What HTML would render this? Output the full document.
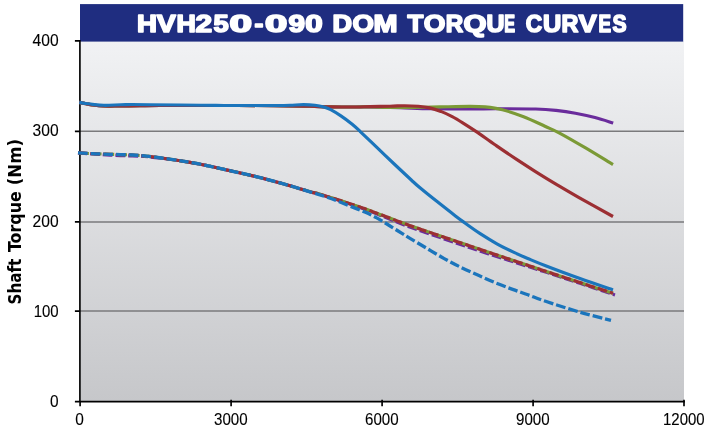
<!DOCTYPE html>
<html><head><meta charset="utf-8"><title>HVH250-090 DOM TORQUE CURVES</title>
<style>
html,body{margin:0;padding:0;background:#fff;}
svg{display:block;}
.tick{font-family:"Liberation Sans",sans-serif;font-size:16.9px;fill:#000;stroke:#000;stroke-width:0.12px;}
.title{font-family:"Liberation Sans",sans-serif;font-weight:bold;font-size:23.5px;fill:#fff;stroke:#fff;stroke-width:1.6px;stroke-linejoin:round;}
.ylab{font-family:"DejaVu Sans","Liberation Sans",sans-serif;font-weight:bold;font-size:17.1px;fill:#000;}
.c{fill:none;stroke-width:3.15;}
.d{fill:none;stroke-width:3.15;stroke-dasharray:9.7 3;}
</style></head><body>
<svg width="707" height="433" viewBox="0 0 707 433" role="img" aria-label="HVH250-090 DOM TORQUE CURVES - Shaft Torque (Nm)">
<defs><linearGradient id="bg" x1="0" y1="0" x2="0" y2="1"><stop offset="0" stop-color="#f1f2f4"/><stop offset="1" stop-color="#c6c7ca"/></linearGradient></defs>
<rect x="0" y="0" width="707" height="433" fill="#fff"/>
<rect x="80" y="41" width="604" height="360" fill="url(#bg)"/>
<g stroke="#7a7a7c" stroke-width="1.5"><line x1="80" y1="131.3" x2="684" y2="131.3"/><line x1="80" y1="221.9" x2="684" y2="221.9"/><line x1="80" y1="311.1" x2="684" y2="311.1"/></g>
<rect x="80" y="4.1" width="603.2" height="37.5" fill="#1f2d80"/>
<text class="title" y="32.3"><tspan x="137.0" textLength="19.9" lengthAdjust="spacingAndGlyphs">H</tspan><tspan x="156.8" textLength="19.1" lengthAdjust="spacingAndGlyphs">V</tspan><tspan x="176.6" textLength="19.3" lengthAdjust="spacingAndGlyphs">H</tspan><tspan x="195.6" textLength="16.6" lengthAdjust="spacingAndGlyphs">2</tspan><tspan x="213.6" textLength="15.2" lengthAdjust="spacingAndGlyphs">5</tspan><tspan x="229.4" textLength="22.5" lengthAdjust="spacingAndGlyphs">0</tspan><tspan x="254.4" textLength="8.8" lengthAdjust="spacingAndGlyphs">-</tspan><tspan x="265.0" textLength="22.3" lengthAdjust="spacingAndGlyphs">0</tspan><tspan x="288.4" textLength="16.5" lengthAdjust="spacingAndGlyphs">9</tspan><tspan x="305.2" textLength="17.4" lengthAdjust="spacingAndGlyphs">0</tspan> <tspan x="332.6" textLength="19.5" lengthAdjust="spacingAndGlyphs">D</tspan><tspan x="352.5" textLength="21.4" lengthAdjust="spacingAndGlyphs">O</tspan><tspan x="373.6" textLength="24.0" lengthAdjust="spacingAndGlyphs">M</tspan> <tspan x="407.6" textLength="15.8" lengthAdjust="spacingAndGlyphs">T</tspan><tspan x="423.8" textLength="21.6" lengthAdjust="spacingAndGlyphs">O</tspan><tspan x="445.8" textLength="17.5" lengthAdjust="spacingAndGlyphs">R</tspan><tspan x="463.4" textLength="23.0" lengthAdjust="spacingAndGlyphs">Q</tspan><tspan x="486.5" textLength="18.0" lengthAdjust="spacingAndGlyphs">U</tspan><tspan x="504.2" textLength="10.8" lengthAdjust="spacingAndGlyphs">E</tspan> <tspan x="525.8" textLength="16.4" lengthAdjust="spacingAndGlyphs">C</tspan><tspan x="543.1" textLength="18.3" lengthAdjust="spacingAndGlyphs">U</tspan><tspan x="561.4" textLength="16.9" lengthAdjust="spacingAndGlyphs">R</tspan><tspan x="578.5" textLength="18.3" lengthAdjust="spacingAndGlyphs">V</tspan><tspan x="598.4" textLength="12.6" lengthAdjust="spacingAndGlyphs">E</tspan><tspan x="612.4" textLength="14.1" lengthAdjust="spacingAndGlyphs">S</tspan></text>
<g stroke="#000" stroke-width="1.65" fill="none">
<path d="M79.9 40V401.6"/><path d="M74.9 401.6H684.9"/>
<path d="M74.9 40.8H80M74.9 131.3H80M74.9 221.9H80M74.9 311.1H80"/>
<path d="M80.1 401V406.2M231.1 399.8V406.2M382.1 399.8V406.2M533.1 399.8V406.2M684 399.8V406.2"/>
</g>
<g>
<path class="c" stroke="#6a2c9c" d="M79.3 102.4C80.4 102.6 83.8 103.3 86.0 103.7C88.2 104.1 89.6 104.5 92.6 104.9C95.6 105.3 99.2 105.8 103.9 106.0C108.6 106.2 114.9 106.0 120.9 106.0C126.9 106.0 133.5 105.9 140.0 105.8C146.5 105.7 147.3 105.5 160.0 105.5C172.7 105.5 196.8 105.5 216.0 105.5C235.2 105.5 259.3 105.5 275.0 105.6C290.7 105.7 300.8 106.0 310.0 106.2C319.2 106.4 322.3 106.8 330.0 106.9C337.7 107.0 349.3 107.0 356.0 107.0C362.7 107.0 362.7 106.8 370.0 106.9C377.3 107.0 389.8 107.4 400.0 107.7C410.2 108.0 419.3 108.5 431.0 108.7C442.7 108.9 459.2 109.0 470.0 109.0C480.8 109.0 485.1 108.7 496.0 108.7C506.9 108.7 525.7 108.7 535.7 109.0C545.7 109.3 549.4 109.7 556.0 110.4C562.6 111.1 568.9 112.0 575.4 113.2C581.9 114.4 588.7 115.9 595.0 117.6C601.3 119.2 610.2 122.2 613.2 123.1"/>
<path class="c" stroke="#7b9a36" d="M79.3 102.4C80.4 102.6 83.8 103.3 86.0 103.7C88.2 104.1 89.6 104.5 92.6 104.9C95.6 105.3 99.2 105.8 103.9 106.0C108.6 106.2 114.9 106.0 120.9 106.0C126.9 106.0 133.5 105.9 140.0 105.8C146.5 105.7 147.3 105.5 160.0 105.5C172.7 105.5 196.8 105.5 216.0 105.5C235.2 105.5 259.3 105.5 275.0 105.6C290.7 105.7 300.8 106.0 310.0 106.2C319.2 106.4 322.3 106.8 330.0 106.9C337.7 107.0 349.3 107.0 356.0 107.0C362.7 107.0 364.3 106.8 370.0 106.9C375.7 107.0 382.5 107.4 390.0 107.5C397.5 107.6 406.7 107.5 415.0 107.4C423.3 107.3 430.8 107.1 440.0 106.9C449.2 106.7 462.5 106.3 470.0 106.3C477.5 106.3 479.6 106.3 485.0 106.9C490.4 107.5 496.0 108.2 502.4 109.8C508.8 111.4 516.5 114.0 523.6 116.7C530.7 119.4 538.8 123.4 544.9 126.2C551.0 129.0 553.1 129.6 560.0 133.3C566.9 137.0 577.2 143.0 586.0 148.2C594.8 153.4 608.5 161.9 613.0 164.6"/>
<path class="c" stroke="#9c2f33" d="M79.3 102.4C80.4 102.6 83.8 103.3 86.0 103.7C88.2 104.1 89.6 104.5 92.6 104.9C95.6 105.3 99.2 105.8 103.9 106.0C108.6 106.2 114.9 106.0 120.9 106.0C126.9 106.0 133.5 105.9 140.0 105.8C146.5 105.7 147.3 105.5 160.0 105.5C172.7 105.5 196.8 105.5 216.0 105.5C235.2 105.5 259.3 105.5 275.0 105.6C290.7 105.7 300.8 106.0 310.0 106.2C319.2 106.4 322.3 106.8 330.0 106.9C337.7 107.0 349.3 107.0 356.0 107.0C362.7 107.0 364.3 106.7 370.0 106.6C375.7 106.5 384.2 106.3 390.0 106.2C395.8 106.1 400.0 105.7 404.7 105.7C409.4 105.7 414.1 105.9 418.3 106.3C422.5 106.7 425.8 107.1 429.6 107.9C433.4 108.8 437.1 110.0 440.9 111.4C444.7 112.9 448.4 114.6 452.2 116.6C456.0 118.6 459.5 120.8 463.5 123.3C467.5 125.8 471.0 128.0 476.3 131.6C481.6 135.2 488.7 140.4 495.4 145.0C502.1 149.6 510.1 155.1 516.6 159.4C523.1 163.7 527.8 166.7 534.3 170.8C540.8 174.9 547.2 178.9 555.5 183.8C563.8 188.7 574.4 195.0 584.0 200.4C593.6 205.8 608.2 213.8 613.0 216.5"/>
<path class="c" stroke="#1b75bc" d="M79.3 102.4C80.4 102.6 83.8 103.2 86.0 103.5C88.2 103.8 89.6 104.1 92.6 104.4C95.6 104.7 99.2 105.2 103.9 105.3C108.6 105.4 116.2 104.9 120.9 104.8C125.6 104.7 127.3 104.5 132.2 104.5C137.0 104.5 142.0 104.6 150.0 104.7C158.0 104.8 169.0 104.9 180.0 105.0C191.0 105.1 204.3 105.3 216.0 105.4C227.7 105.5 240.2 105.5 250.0 105.5C259.8 105.5 268.3 105.5 275.0 105.5C281.7 105.5 285.2 105.5 290.0 105.3C294.8 105.1 299.5 104.6 303.6 104.6C307.8 104.6 311.5 104.8 314.9 105.2C318.3 105.6 321.3 106.2 323.9 106.9C326.5 107.7 327.9 108.2 330.7 109.7C333.5 111.2 337.3 113.5 340.9 115.9C344.5 118.3 349.0 121.7 352.2 124.3C355.4 126.9 355.9 127.4 360.0 131.3C364.1 135.2 371.4 142.2 377.1 147.7C382.8 153.1 388.5 158.6 394.2 164.0C399.9 169.4 407.0 176.0 411.3 180.0C415.6 184.0 415.7 184.2 420.0 187.8C424.3 191.4 431.4 197.1 437.1 201.6C442.8 206.1 449.9 211.7 454.2 215.0C458.5 218.3 458.4 218.3 462.7 221.4C467.0 224.5 474.1 229.7 479.8 233.4C485.5 237.1 491.2 240.6 496.9 243.8C502.6 247.0 508.9 250.0 514.0 252.4C519.1 254.8 522.4 256.3 527.7 258.5C533.0 260.7 536.9 262.4 545.6 265.8C554.3 269.2 568.8 274.6 580.0 278.6C591.2 282.6 607.5 288.1 613.0 290.0"/>
<path class="d" stroke="#6a2c9c" stroke-dashoffset="0.5" d="M78.0 152.9C80.5 153.1 87.7 153.6 93.1 154.0C98.5 154.4 103.7 154.9 110.2 155.2C116.8 155.5 126.7 155.8 132.4 156.0C138.1 156.2 142.4 156.3 144.4 156.4"/>
<path class="d" stroke="#7b9a36" stroke-dashoffset="11.5" d="M78.0 152.9C80.5 153.0 87.7 153.5 93.1 153.7C98.5 153.9 103.7 154.1 110.2 154.3C116.8 154.5 126.7 154.7 132.4 155.0C138.1 155.3 142.4 155.8 144.4 155.9"/>
<path class="d" stroke="#9c2f33" stroke-dashoffset="0.3" d="M78.0 152.9C80.5 153.0 87.7 153.5 93.1 153.7C98.5 153.9 103.7 154.1 110.2 154.3C116.8 154.5 126.7 154.7 132.4 155.0C138.1 155.3 142.4 155.8 144.4 155.9"/>
<path class="d" stroke="#6a2c9c" stroke-dashoffset="6" d="M144.4 156.4C147.2 156.7 155.8 157.6 161.5 158.3C167.2 159.0 173.8 159.8 178.6 160.5C183.3 161.2 185.2 161.6 190.0 162.4C194.8 163.2 201.4 164.4 207.1 165.6C212.8 166.8 218.5 168.1 224.2 169.4C229.9 170.7 235.6 171.9 241.3 173.2C247.0 174.5 252.7 175.8 258.4 177.2C264.1 178.6 269.8 180.1 275.5 181.7C281.2 183.2 286.9 184.8 292.6 186.5C298.4 188.2 305.8 190.6 310.0 191.8C314.2 193.0 312.8 192.2 317.9 193.7C323.0 195.2 332.8 198.3 340.5 200.9C348.2 203.5 357.7 206.7 364.3 209.1C370.9 211.5 372.7 212.3 380.0 215.2C387.3 218.1 397.6 222.6 408.3 226.5C419.0 230.4 432.5 234.9 444.2 238.9C455.9 242.9 467.0 246.7 478.4 250.5C489.8 254.3 501.4 258.0 512.6 261.6C523.8 265.2 534.4 268.5 545.6 272.1C556.8 275.7 568.4 279.5 580.0 283.3C591.6 287.1 609.2 293.0 615.0 294.9"/>
<path class="d" stroke="#7b9a36" stroke-dashoffset="3" d="M144.4 155.9C147.2 156.2 155.8 157.2 161.5 158.0C167.2 158.8 173.8 159.8 178.6 160.5C183.3 161.2 185.2 161.6 190.0 162.4C194.8 163.2 201.4 164.4 207.1 165.6C212.8 166.8 218.5 168.1 224.2 169.4C229.9 170.7 235.6 171.9 241.3 173.2C247.0 174.5 252.7 175.8 258.4 177.2C264.1 178.6 269.8 180.1 275.5 181.7C281.2 183.2 286.9 184.8 292.6 186.5C298.4 188.2 305.8 190.6 310.0 191.8C314.2 193.0 312.8 192.1 317.9 193.6C323.0 195.1 332.8 198.1 340.5 200.6C348.2 203.1 357.7 206.3 364.3 208.6C370.9 210.9 372.7 211.7 380.0 214.4C387.3 217.1 397.6 221.2 408.3 225.0C419.0 228.8 432.5 233.2 444.2 237.2C455.9 241.2 467.0 245.0 478.4 248.8C489.8 252.7 501.4 256.6 512.6 260.3C523.8 264.0 534.4 267.5 545.6 271.2C556.8 274.9 568.8 278.9 580.0 282.6C591.2 286.3 607.5 291.5 613.0 293.3"/>
<path class="d" stroke="#9c2f33" stroke-dashoffset="9.35" d="M144.4 155.9C147.2 156.2 155.8 157.2 161.5 158.0C167.2 158.8 173.8 159.8 178.6 160.5C183.3 161.2 185.2 161.6 190.0 162.4C194.8 163.2 201.4 164.4 207.1 165.6C212.8 166.8 218.5 168.1 224.2 169.4C229.9 170.7 235.6 171.9 241.3 173.2C247.0 174.5 252.7 175.8 258.4 177.2C264.1 178.6 269.8 180.1 275.5 181.7C281.2 183.2 286.9 184.8 292.6 186.5C298.4 188.2 305.8 190.6 310.0 191.8C314.2 193.0 312.8 192.1 317.9 193.6C323.0 195.1 332.8 198.1 340.5 200.6C348.2 203.1 357.7 206.3 364.3 208.6C370.9 210.9 372.7 211.7 380.0 214.4C387.3 217.1 397.6 221.2 408.3 225.0C419.0 228.8 432.5 233.2 444.2 237.2C455.9 241.2 467.0 245.0 478.4 248.8C489.8 252.7 501.4 256.6 512.6 260.3C523.8 264.0 534.4 267.5 545.6 271.2C556.8 274.9 568.8 278.9 580.0 282.6C591.2 286.3 607.5 291.5 613.0 293.3"/>
<path class="d" stroke="#1b75bc" style="stroke-width:3.3" d="M78.0 152.9C80.5 153.0 87.7 153.5 93.1 153.7C98.5 153.9 103.7 154.1 110.2 154.3C116.8 154.5 126.7 154.7 132.4 155.0C138.1 155.3 139.6 155.4 144.4 155.9C149.2 156.4 155.8 157.2 161.5 158.0C167.2 158.8 173.8 159.8 178.6 160.5C183.3 161.2 185.2 161.6 190.0 162.4C194.8 163.2 201.4 164.4 207.1 165.6C212.8 166.8 218.5 168.1 224.2 169.4C229.9 170.7 235.6 171.9 241.3 173.2C247.0 174.5 252.7 175.8 258.4 177.2C264.1 178.6 269.8 180.1 275.5 181.7C281.2 183.2 286.9 184.8 292.6 186.5C298.4 188.2 304.6 190.2 310.0 191.8C315.4 193.5 320.2 194.9 324.7 196.4C329.2 197.9 332.8 199.2 337.1 200.9C341.4 202.6 346.0 204.5 350.7 206.4C355.4 208.3 361.1 210.4 365.4 212.3C369.7 214.2 373.1 216.0 376.7 217.9C380.3 219.8 383.3 221.8 386.9 224.0C390.5 226.2 394.2 228.6 398.1 231.0C402.0 233.4 405.2 235.4 410.0 238.3C414.8 241.2 421.4 245.1 427.1 248.5C432.8 251.9 438.5 255.4 444.2 258.6C449.9 261.8 455.6 264.7 461.3 267.5C467.0 270.3 472.7 272.8 478.4 275.3C484.1 277.9 489.8 280.5 495.5 282.8C501.2 285.1 507.2 287.4 512.6 289.4C518.0 291.4 522.4 292.8 527.9 294.8C533.4 296.8 536.9 298.4 545.6 301.3C554.3 304.2 569.1 309.0 580.0 312.2C590.9 315.4 605.8 319.0 611.0 320.4"/>
</g>
<g class="tick">
<text x="32.6" y="46.1" textLength="26" lengthAdjust="spacingAndGlyphs">400</text>
<text x="32.6" y="136.3" textLength="26" lengthAdjust="spacingAndGlyphs">300</text>
<text x="32.6" y="227.1" textLength="26" lengthAdjust="spacingAndGlyphs">200</text>
<text x="33.7" y="316.5" textLength="25" lengthAdjust="spacingAndGlyphs">100</text>
<text x="50" y="407.2" textLength="8.6" lengthAdjust="spacingAndGlyphs">0</text>
</g>
<g class="tick">
<text x="75.2" y="425.4" textLength="8.6" lengthAdjust="spacingAndGlyphs">0</text>
<text x="214" y="425.4" textLength="33.6" lengthAdjust="spacingAndGlyphs">3000</text>
<text x="365" y="425.4" textLength="33.6" lengthAdjust="spacingAndGlyphs">6000</text>
<text x="516" y="425.4" textLength="33.6" lengthAdjust="spacingAndGlyphs">9000</text>
<text x="663" y="425.4" textLength="41.6" lengthAdjust="spacingAndGlyphs">12000</text>
</g>
<text class="ylab" transform="translate(20.6,303.5) rotate(-90)"><tspan x="-1.1" textLength="46" lengthAdjust="spacingAndGlyphs">Shaft</tspan> <tspan x="51.4" textLength="60.9" lengthAdjust="spacingAndGlyphs">Torque</tspan> <tspan x="118.2" textLength="46.3" lengthAdjust="spacingAndGlyphs">(Nm)</tspan></text>
</svg>
</body></html>
